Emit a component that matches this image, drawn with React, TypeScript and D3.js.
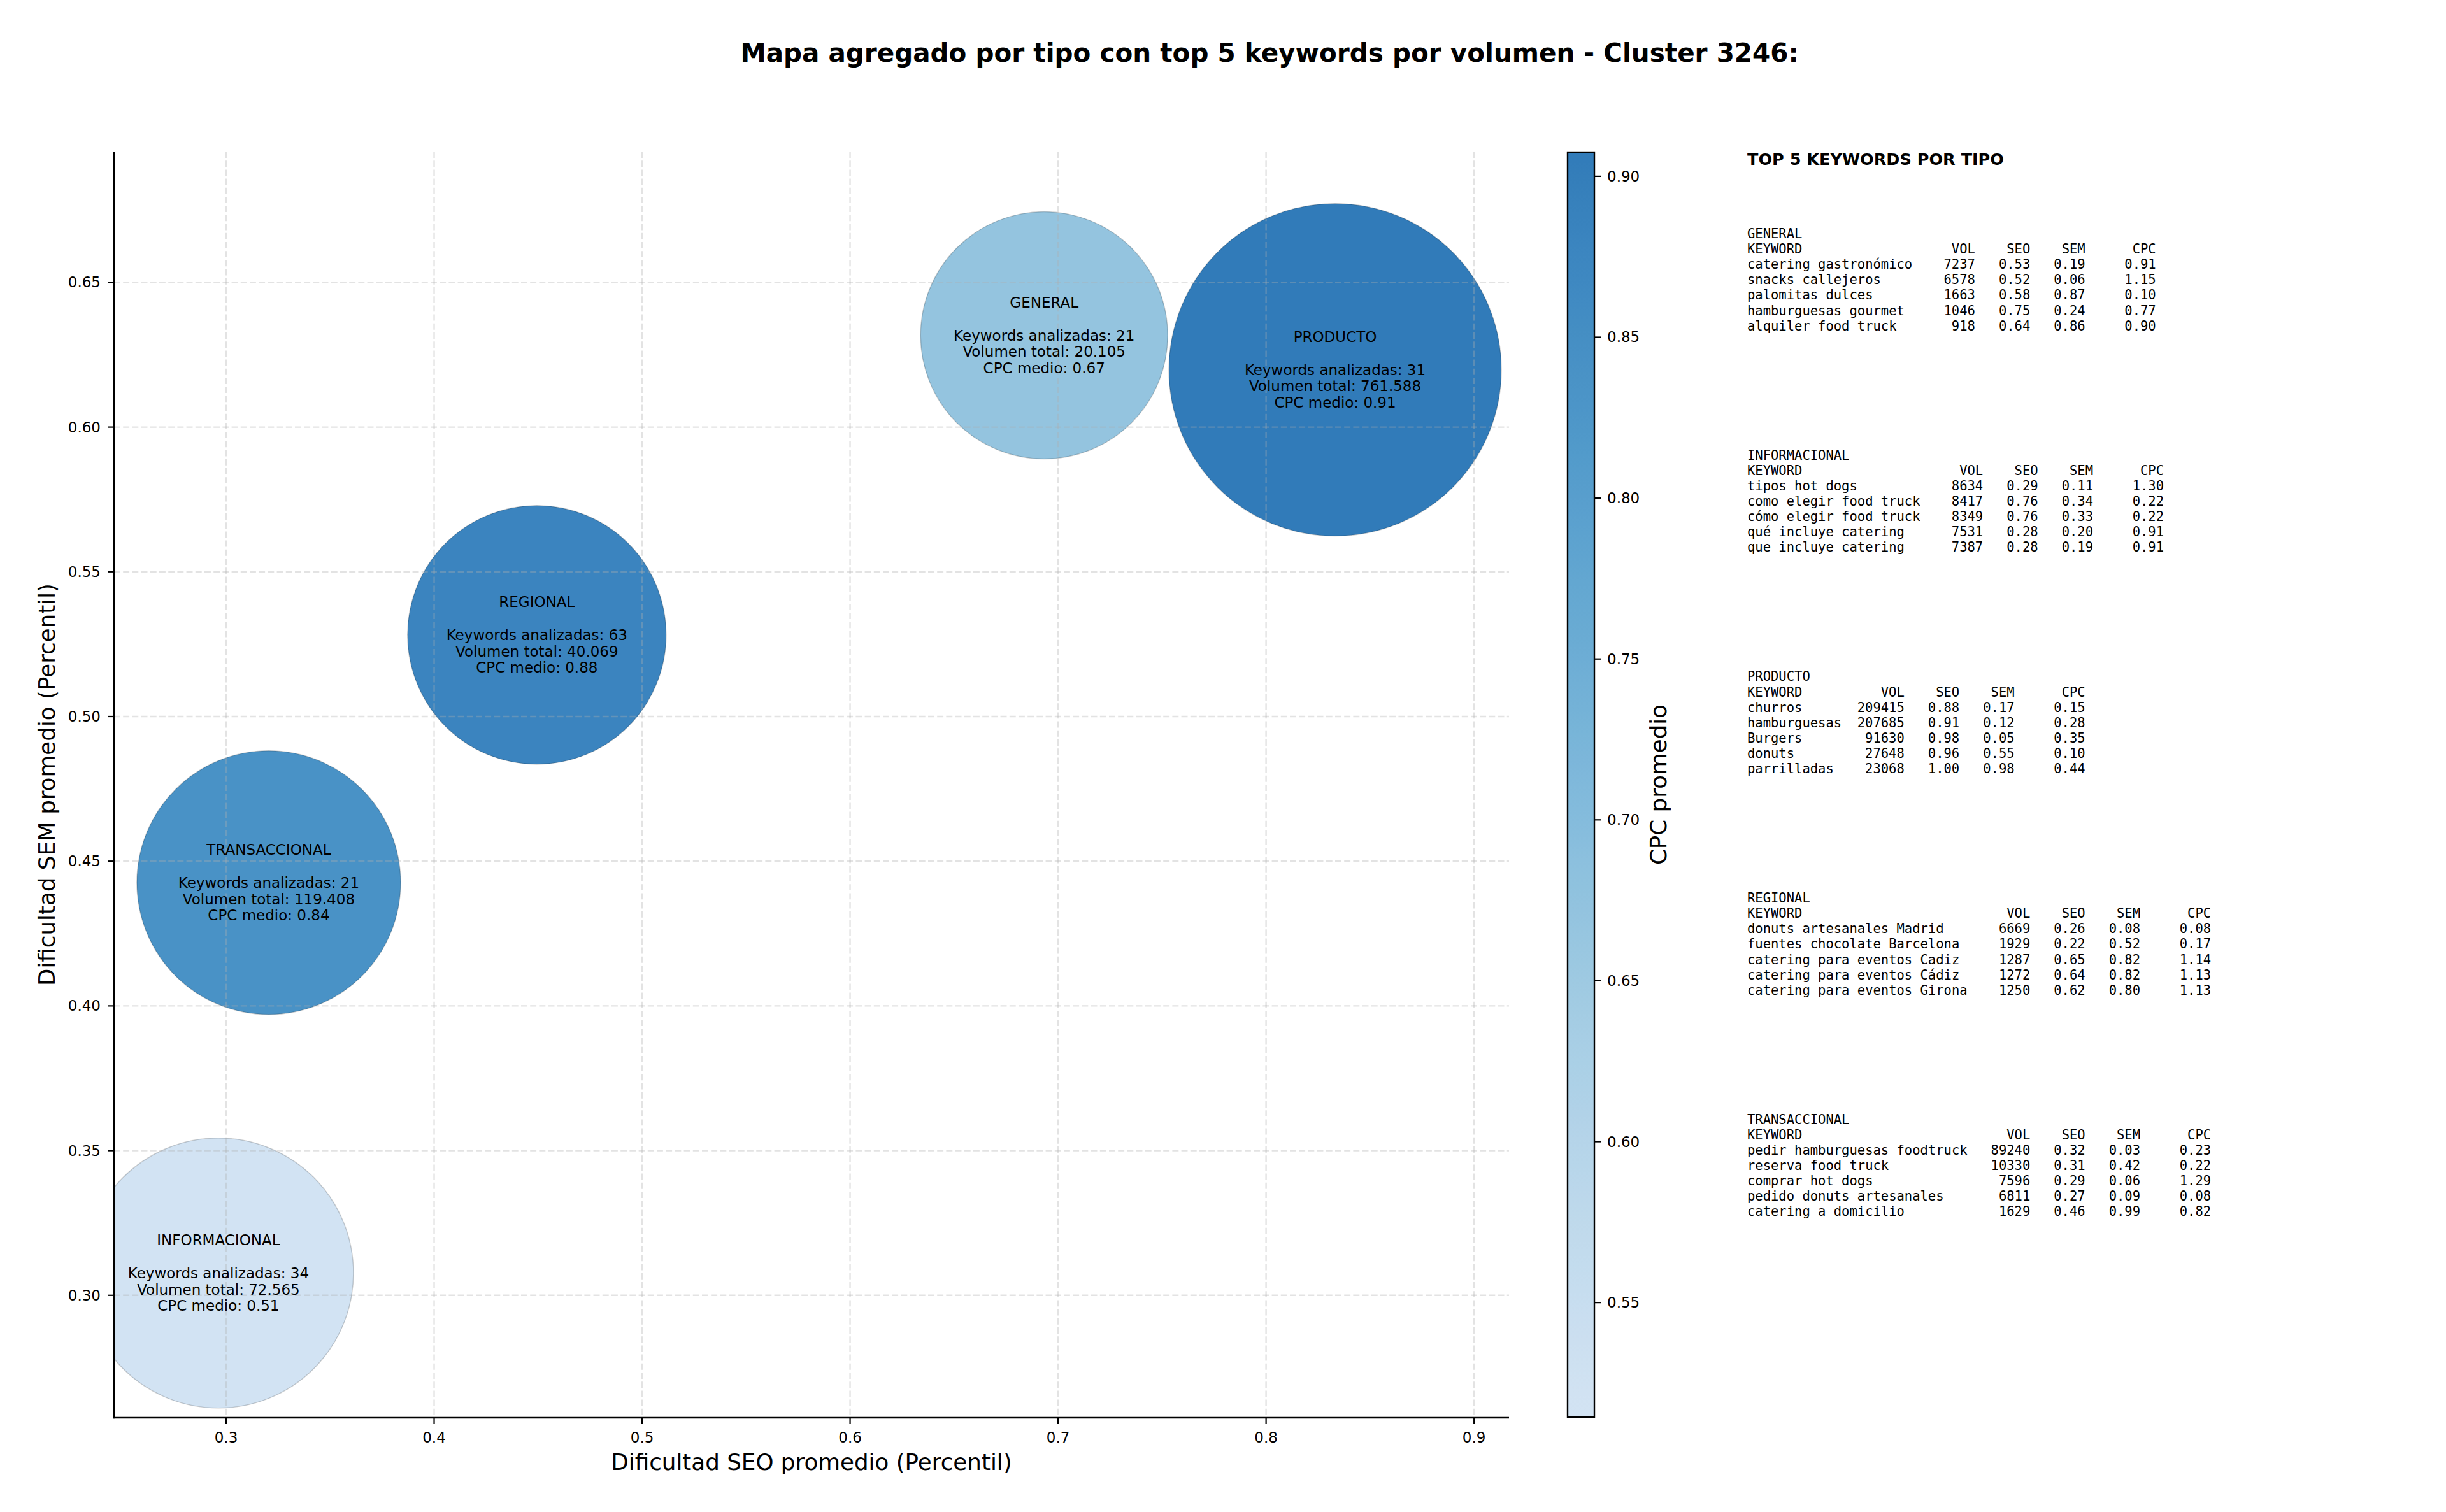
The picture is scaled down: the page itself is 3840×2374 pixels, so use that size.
import React, { useEffect } from "react";
import * as d3 from "d3";

// ---------- DATA ----------
const types = ["GENERAL", "INFORMACIONAL", "PRODUCTO", "REGIONAL", "TRANSACCIONAL"];
const seoAvg = [0.6933, 0.2963, 0.8332, 0.4494, 0.3205];
const semAvg = [0.6317, 0.3077, 0.6198, 0.5282, 0.4426];
const cpcAvg = [0.67, 0.5144, 0.9075, 0.88, 0.84];
const keywordCounts = [21, 34, 31, 63, 21];
const totalVolumes = [20105, 72565, 761588, 40069, 119408];
// marker area (pt^2)
const bubbleSizes = [13550, 16180, 24520, 14840, 15430];

const xTicks = [0.3, 0.4, 0.5, 0.6, 0.7, 0.8, 0.9];
const yTicks = [0.3, 0.35, 0.4, 0.45, 0.5, 0.55, 0.6, 0.65];
const cTicks = [0.55, 0.6, 0.65, 0.7, 0.75, 0.8, 0.85, 0.9];
const xDomain = [0.2461, 0.9168];
const yDomain = [0.2577, 0.6952];

type Row = [string, number, number, number, number];
const topGeneral: Row[] = [
  ["catering gastronómico", 7237, 0.53, 0.19, 0.91],
  ["snacks callejeros", 6578, 0.52, 0.06, 1.15],
  ["palomitas dulces", 1663, 0.58, 0.87, 0.1],
  ["hamburguesas gourmet", 1046, 0.75, 0.24, 0.77],
  ["alquiler food truck", 918, 0.64, 0.86, 0.9],
];
const topInformacional: Row[] = [
  ["tipos hot dogs", 8634, 0.29, 0.11, 1.3],
  ["como elegir food truck", 8417, 0.76, 0.34, 0.22],
  ["cómo elegir food truck", 8349, 0.76, 0.33, 0.22],
  ["qué incluye catering", 7531, 0.28, 0.2, 0.91],
  ["que incluye catering", 7387, 0.28, 0.19, 0.91],
];
const topProducto: Row[] = [
  ["churros", 209415, 0.88, 0.17, 0.15],
  ["hamburguesas", 207685, 0.91, 0.12, 0.28],
  ["Burgers", 91630, 0.98, 0.05, 0.35],
  ["donuts", 27648, 0.96, 0.55, 0.1],
  ["parrilladas", 23068, 1.0, 0.98, 0.44],
];
const topRegional: Row[] = [
  ["donuts artesanales Madrid", 6669, 0.26, 0.08, 0.08],
  ["fuentes chocolate Barcelona", 1929, 0.22, 0.52, 0.17],
  ["catering para eventos Cadiz", 1287, 0.65, 0.82, 1.14],
  ["catering para eventos Cádiz", 1272, 0.64, 0.82, 1.13],
  ["catering para eventos Girona", 1250, 0.62, 0.8, 1.13],
];
const topTransaccional: Row[] = [
  ["pedir hamburguesas foodtruck", 89240, 0.32, 0.03, 0.23],
  ["reserva food truck", 10330, 0.31, 0.42, 0.22],
  ["comprar hot dogs", 7596, 0.29, 0.06, 1.29],
  ["pedido donuts artesanales", 6811, 0.27, 0.09, 0.08],
  ["catering a domicilio", 1629, 0.46, 0.99, 0.82],
];
const tables: Row[][] = [topGeneral, topInformacional, topProducto, topRegional, topTransaccional];

const TITLE = "Mapa agregado por tipo con top 5 keywords por volumen - Cluster 3246:";

// ---------- LAYOUT ----------
const W = 3840;
const H = 2374;
const P = { left: 179, right: 2369, top: 238, bottom: 2226 };
const CB = { left: 2461, right: 2503, top: 239, bottom: 2225 };
const SANS = "'DejaVu Sans', sans-serif";
const MONO = "'DejaVu Sans Mono', monospace";

const fmtVol = (v: number) => d3.format(",")(v).replace(/,/g, ".");

export default function App() {
  useEffect(() => {
    document.body.style.margin = "0";
  }, []);

  const x = d3.scaleLinear().domain(xDomain).range([P.left, P.right]);
  const y = d3.scaleLinear().domain(yDomain).range([P.bottom, P.top]);
  const cExt = d3.extent(cpcAvg) as [number, number];
  const blues = (t: number) => {
    const c = d3.rgb(d3.interpolateBlues(0.2 + 0.55 * t));
    // slight alpha (0.93) composited over white
    const a = 0.93;
    return d3.rgb(c.r * a + 255 * (1 - a), c.g * a + 255 * (1 - a), c.b * a + 255 * (1 - a)).formatHex();
  };
  const color = d3.scaleSequential(blues).domain(cExt);
  const cb = d3.scaleLinear().domain(cExt).range([CB.bottom, CB.top]);
  const r = d3.scaleSqrt().domain([0, 1]).range([0, 0.5 * (240 / 72)]);

  const gradStops = d3.range(0, 1.0001, 0.02);

  const tickFs = 23;
  const lh = 25.7;

  // table
  const tx = 2743;
  const monoFs = 20.5;
  const cw = monoFs * 0.602;
  const tLh = 24.1;

  const order = d3.range(types.length);

  return (
    <svg
      width={W}
      height={H}
      viewBox={`0 0 ${W} ${H}`}
      style={{ position: "absolute", left: 0, top: 0, display: "block", background: "#fff" }}
    >
      <defs>
        <clipPath id="plotclip">
          <rect x={P.left} y={P.top} width={P.right - P.left} height={P.bottom - P.top} />
        </clipPath>
        <linearGradient id="cbgrad" x1="0" y1="1" x2="0" y2="0">
          {gradStops.map((s) => (
            <stop
              key={"s" + s}
              offset={s}
              stopColor={color(cExt[0] + s * (cExt[1] - cExt[0]))}
            />
          ))}
        </linearGradient>
      </defs>
      <rect x={0} y={0} width={W} height={H} fill="#fff" />
      <text
        x={1993}
        y={83}
        textAnchor="middle"
        dominantBaseline="central"
        fontFamily={SANS}
        fontWeight="bold"
        fontSize={40.5}
      >
        {TITLE}
      </text>

      {/* bubbles */}
      <g clipPath="url(#plotclip)">
        {order.map((i) => (
          <circle
            key={types[i]}
            cx={x(seoAvg[i])}
            cy={y(semAvg[i])}
            r={r(bubbleSizes[i])}
            fill={color(cpcAvg[i])}
            stroke="rgba(0,0,0,0.18)"
            strokeWidth={1.5}
          />
        ))}
      </g>

      {/* grid on top (matplotlib default zorder) */}
      <g stroke="#b0b0b0" strokeOpacity={0.35} strokeWidth={2.4} strokeDasharray="9.9,4.3">
        {xTicks.map((t) => (
          <line key={"gx" + t} x1={x(t)} x2={x(t)} y1={P.top} y2={P.bottom} />
        ))}
        {yTicks.map((t) => (
          <line key={"gy" + t} x1={P.left} x2={P.right} y1={y(t)} y2={y(t)} />
        ))}
      </g>

      {/* bubble labels */}
      <g fontFamily={SANS} fontSize={23} textAnchor="middle" fill="#000">
        {order.map((i) => {
          const cx = x(seoAvg[i]);
          const cy = y(semAvg[i]);
          const lines = [
            types[i],
            "",
            `Keywords analizadas: ${keywordCounts[i]}`,
            `Volumen total: ${fmtVol(totalVolumes[i])}`,
            `CPC medio: ${cpcAvg[i].toFixed(2)}`,
          ];
          return lines.map((s, k) =>
            s ? (
              <text key={types[i] + k} x={cx} y={cy + (k - 2) * lh} dominantBaseline="central">
                {s}
              </text>
            ) : null
          );
        })}
      </g>

      {/* axes */}
      <g stroke="#000" strokeWidth={2.6}>
        <line x1={P.left} x2={P.left} y1={P.top} y2={P.bottom + 1.3} />
        <line x1={P.left - 1.3} x2={P.right} y1={P.bottom} y2={P.bottom} />
      </g>
      <g>
        {xTicks.map((t) => (
          <g key={"xt" + t}>
            <line x1={x(t)} x2={x(t)} y1={P.bottom} y2={P.bottom + 10} stroke="#000" strokeWidth={2.2} />
            <text
              x={x(t)}
              y={P.bottom + 31}
              textAnchor="middle"
              dominantBaseline="central"
              fontFamily={SANS}
              fontSize={tickFs}
            >
              {d3.format(".1f")(t)}
            </text>
          </g>
        ))}
        {yTicks.map((t) => (
          <g key={"yt" + t}>
            <line x1={P.left - 10} x2={P.left} y1={y(t)} y2={y(t)} stroke="#000" strokeWidth={2.2} />
            <text
              x={P.left - 21}
              y={y(t)}
              textAnchor="end"
              dominantBaseline="central"
              fontFamily={SANS}
              fontSize={tickFs}
            >
              {d3.format(".2f")(t)}
            </text>
          </g>
        ))}
      </g>
      <text
        x={(P.left + P.right) / 2}
        y={2295}
        textAnchor="middle"
        dominantBaseline="central"
        fontFamily={SANS}
        fontSize={35.7}
      >
        Dificultad SEO promedio (Percentil)
      </text>
      <text
        transform={`translate(73, ${(P.top + P.bottom) / 2}) rotate(-90)`}
        textAnchor="middle"
        dominantBaseline="central"
        fontFamily={SANS}
        fontSize={35.7}
      >
        Dificultad SEM promedio (Percentil)
      </text>

      {/* colorbar */}
      <rect
        x={CB.left}
        y={CB.top}
        width={CB.right - CB.left}
        height={CB.bottom - CB.top}
        fill="url(#cbgrad)"
        stroke="#000"
        strokeWidth={2.4}
      />
      {cTicks.map((t) => (
        <g key={"ct" + t}>
          <line x1={CB.right} x2={CB.right + 10} y1={cb(t)} y2={cb(t)} stroke="#000" strokeWidth={2.2} />
          <text
            x={CB.right + 20}
            y={cb(t)}
            dominantBaseline="central"
            fontFamily={SANS}
            fontSize={tickFs}
          >
            {d3.format(".2f")(t)}
          </text>
        </g>
      ))}
      <text
        transform={`translate(2603, ${(CB.top + CB.bottom) / 2}) rotate(-90)`}
        textAnchor="middle"
        dominantBaseline="central"
        fontFamily={SANS}
        fontSize={35.7}
      >
        CPC promedio
      </text>

      {/* keyword tables */}
      <text x={tx} y={250} dominantBaseline="central" fontFamily={SANS} fontWeight="bold" fontSize={25.5}>
        TOP 5 KEYWORDS POR TIPO
      </text>
      <g fontFamily={MONO} fontSize={monoFs} fill="#000">
        {tables.map((rows, gi) => {
          const y0 = 367 + gi * 347.7;
          const wKw = Math.max(7, ...rows.map((rw) => rw[0].length));
          const cols = [wKw + 8, wKw + 15, wKw + 22, wKw + 31];
          const header = ["VOL", "SEO", "SEM", "CPC"];
          return (
            <g key={"tb" + gi}>
              <text x={tx} y={y0} dominantBaseline="central">
                {types[gi]}
              </text>
              <text x={tx} y={y0 + tLh} dominantBaseline="central">
                KEYWORD
              </text>
              {header.map((h, ci) => (
                <text key={h} x={tx + cols[ci] * cw} y={y0 + tLh} textAnchor="end" dominantBaseline="central">
                  {h}
                </text>
              ))}
              {rows.map((rw, ri) => {
                const yy = y0 + (ri + 2) * tLh;
                const vals = [String(rw[1]), rw[2].toFixed(2), rw[3].toFixed(2), rw[4].toFixed(2)];
                return (
                  <g key={"r" + ri}>
                    <text x={tx} y={yy} dominantBaseline="central">
                      {rw[0]}
                    </text>
                    {vals.map((v, ci) => (
                      <text key={ci} x={tx + cols[ci] * cw} y={yy} textAnchor="end" dominantBaseline="central">
                        {v}
                      </text>
                    ))}
                  </g>
                );
              })}
            </g>
          );
        })}
      </g>
    </svg>
  );
}
